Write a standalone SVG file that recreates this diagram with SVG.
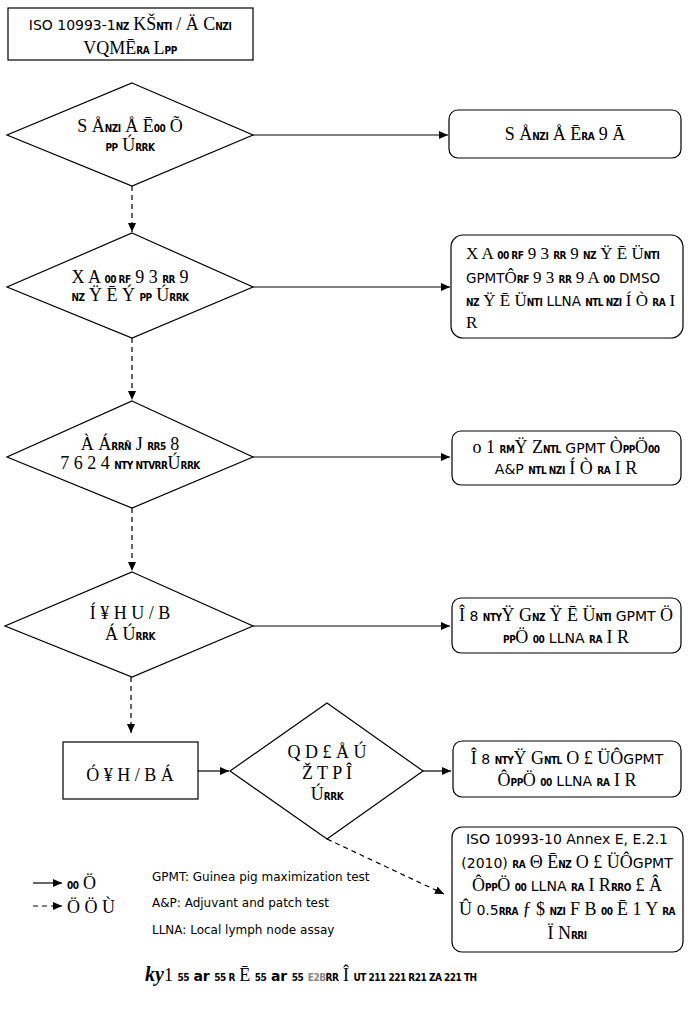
<svg xmlns="http://www.w3.org/2000/svg" width="693" height="1032" viewBox="0 0 693 1032">
<style>
.bg{fill:#fff}
.n{fill:#fff;stroke:#000;stroke-width:1.2}
.c{fill:none;stroke:#000;stroke-width:1.2}
.d{fill:none;stroke:#000;stroke-width:1.2;stroke-dasharray:5 4}
text{fill:#000;font-family:"Liberation Serif",serif;font-size:18px}
.m{text-anchor:middle}
.l{font-family:"DejaVu Sans",sans-serif;font-size:14px}
.s{font-family:"DejaVu Sans Condensed","DejaVu Sans",sans-serif;font-size:10px;font-weight:bold;letter-spacing:-0.5px}
.lg{font-family:"DejaVu Sans",sans-serif;font-size:12px}
#r2 text{font-size:17px}
#r2 .l{font-size:13.5px}
</style>
<defs>
<marker id="a" markerWidth="10" markerHeight="10" refX="9" refY="5" orient="auto" markerUnits="userSpaceOnUse">
<path d="M0,1 L9,5 L0,9 Z" fill="#000"/>
</marker>
</defs>
<rect class="bg" width="693" height="1032"/>

<g id="connectors">
<line class="c" x1="253" y1="135" x2="448" y2="135" marker-end="url(#a)"/>
<line class="d" x1="132" y1="186" x2="132" y2="232" marker-end="url(#a)"/>
<line class="c" x1="253" y1="287" x2="450" y2="287" marker-end="url(#a)"/>
<line class="d" x1="132" y1="338" x2="132" y2="400" marker-end="url(#a)"/>
<line class="c" x1="253" y1="457" x2="450" y2="457" marker-end="url(#a)"/>
<line class="d" x1="132" y1="508" x2="132" y2="571" marker-end="url(#a)"/>
<line class="c" x1="253" y1="626" x2="450" y2="626" marker-end="url(#a)"/>
<line class="d" x1="131" y1="677" x2="131" y2="733" marker-end="url(#a)"/>
<line class="c" x1="198" y1="771" x2="229" y2="771" marker-end="url(#a)"/>
<line class="c" x1="423" y1="771" x2="451" y2="771" marker-end="url(#a)"/>
<line class="d" x1="327" y1="839" x2="444" y2="894" marker-end="url(#a)"/>
</g>

<g id="n-top">
<rect class="n" x="8" y="8" width="245" height="52"/>
<text class="m" x="130" y="30"><tspan class="l">ISO 10993-1</tspan><tspan class="s">NZ</tspan> KŠ<tspan class="s">NTI</tspan> / Ä  C<tspan class="s">NZI</tspan></text>
<text class="m" x="130" y="54">VQMĒ<tspan class="s">RA</tspan> L<tspan class="s">PP</tspan></text>
</g>

<g id="q1">
<polygon class="n" points="132,83 253,135 132,186 7,135"/>
<text class="m" x="130" y="132">S Å<tspan class="s">NZI</tspan> Å Ē<tspan class="s">00</tspan> Õ</text>
<text class="m" x="130" y="151"><tspan class="s">PP</tspan> Ú<tspan class="s">RRK</tspan></text>
</g>

<g id="r1">
<rect class="n" x="449" y="110" width="232" height="48" rx="9"/>
<text class="m" x="565" y="140">S Å<tspan class="s">NZI</tspan> Å Ē<tspan class="s">RA</tspan> 9 Ā</text>
</g>

<g id="q2">
<polygon class="n" points="132,233 253,287 132,338 7,287"/>
<text class="m" x="130" y="283">X A <tspan class="s">00 RF</tspan> 9 3 <tspan class="s">RR</tspan> 9</text>
<text class="m" x="130" y="301"><tspan class="s">NZ</tspan> Ÿ Ē Ý <tspan class="s">PP</tspan> Ú<tspan class="s">RRK</tspan></text>
</g>

<g id="r2">
<rect class="n" x="451" y="235" width="232" height="103" rx="12"/>
<text x="466" y="259">X A <tspan class="s">00 RF</tspan> 9 3 <tspan class="s">RR</tspan> 9 <tspan class="s">NZ</tspan> Ÿ Ē Ü<tspan class="s">NTI</tspan></text>
<text x="466" y="283"><tspan class="l">GPMT</tspan>Ô<tspan class="s">RF</tspan> 9 3 <tspan class="s">RR</tspan> 9 A <tspan class="s">00</tspan> <tspan class="l">DMSO</tspan></text>
<text x="466" y="306"><tspan class="s">NZ</tspan> Ÿ Ē Ü<tspan class="s">NTI</tspan> <tspan class="l">LLNA</tspan> <tspan class="s">NTL NZI</tspan> Í Ò <tspan class="s">RA</tspan> I</text>
<text x="466" y="328">R</text>
</g>

<g id="q3">
<polygon class="n" points="132,401 253,457 132,508 7,457"/>
<text class="m" x="130" y="450">À Á<tspan class="s">RRÑ</tspan> J <tspan class="s">RR5</tspan> 8</text>
<text class="m" x="130" y="469">7 6 2 4 <tspan class="s">NTY NTVRR</tspan>Ú<tspan class="s">RRK</tspan></text>
</g>

<g id="r3">
<rect class="n" x="452" y="431" width="229" height="54" rx="9"/>
<text class="m" x="566" y="453">o 1 <tspan class="s">RM</tspan>Ÿ Z<tspan class="s">NTL</tspan> <tspan class="l">GPMT</tspan> Ò<tspan class="s">PP</tspan>Ö<tspan class="s">00</tspan></text>
<text class="m" x="566" y="474"><tspan class="l">A&amp;P</tspan> <tspan class="s">NTL NZI</tspan> Í Ò <tspan class="s">RA</tspan> I R</text>
</g>

<g id="q4">
<polygon class="n" points="132,572 253,626 132,677 5,626"/>
<text class="m" x="130" y="619">Í ¥ H U / B</text>
<text class="m" x="130" y="640">Á Ú<tspan class="s">RRK</tspan></text>
</g>

<g id="r4">
<rect class="n" x="452" y="598" width="229" height="55" rx="9"/>
<text class="m" x="566" y="621">Î <tspan class="l">8</tspan> <tspan class="s">NTY</tspan>Ÿ G<tspan class="s">NZ</tspan> Ÿ Ē Ü<tspan class="s">NTI</tspan> <tspan class="l">GPMT</tspan> Ö</text>
<text class="m" x="566" y="643"><tspan class="s">PP</tspan>Ö <tspan class="s">00</tspan> <tspan class="l">LLNA</tspan> <tspan class="s">RA</tspan> I R</text>
</g>

<g id="r-mid">
<rect class="n" x="63" y="742" width="135" height="57"/>
<text class="m" x="130" y="781">Ó ¥ H / B Á</text>
</g>

<g id="q5">
<polygon class="n" points="327,703 423,771 327,839 230,771"/>
<text class="m" x="327" y="758">Q D £ Å Ú</text>
<text class="m" x="327" y="779">Ž T P Î</text>
<text class="m" x="327" y="800">Ú<tspan class="s">RRK</tspan></text>
</g>

<g id="r5">
<rect class="n" x="453" y="741" width="228" height="56" rx="9"/>
<text class="m" x="567" y="764">Î <tspan class="l">8</tspan> <tspan class="s">NTY</tspan>Ÿ G<tspan class="s">NTL</tspan> O £ ÜÔ<tspan class="l">GPMT</tspan></text>
<text class="m" x="567" y="786">Ô<tspan class="s">PP</tspan>Ö <tspan class="s">00</tspan> <tspan class="l">LLNA</tspan> <tspan class="s">RA</tspan> I R</text>
</g>

<g id="r6">
<rect class="n" x="452" y="827" width="231" height="125" rx="10"/>
<text class="m l" x="567" y="844">ISO 10993-10 Annex E, E.2.1</text>
<text class="m" x="567" y="868"><tspan class="l">(2010)</tspan> <tspan class="s">RA</tspan> Θ Ē<tspan class="s">NZ</tspan> O £ ÜÔ<tspan class="l">GPMT</tspan></text>
<text class="m" x="567" y="891">Ô<tspan class="s">PP</tspan>Ö <tspan class="s">00</tspan> <tspan class="l">LLNA</tspan> <tspan class="s">RA</tspan> I R<tspan class="s">RRO</tspan> £ Â</text>
<text class="m" x="567" y="915">Û <tspan class="l">0.5</tspan><tspan class="s">RRA</tspan> ƒ $ <tspan class="s">NZI</tspan> F B <tspan class="s">00</tspan> Ē 1 Y <tspan class="s">RA</tspan></text>
<text class="m" x="567" y="939">Ï N<tspan class="s">RRI</tspan></text>
</g>

<g id="legend">
<line class="c" x1="33" y1="883" x2="62" y2="883" marker-end="url(#a)"/>
<line class="d" x1="33" y1="906" x2="62" y2="906" marker-end="url(#a)"/>
<text x="67" y="889"><tspan class="s">00</tspan> Ö</text>
<text x="67" y="913">Ö Ö Ù</text>
<text class="lg" x="152" y="881">GPMT: Guinea pig maximization test</text>
<text class="lg" x="152" y="907">A&amp;P: Adjuvant and patch test</text>
<text class="lg" x="152" y="934">LLNA: Local lymph node assay</text>
</g>

<g id="caption">
<text x="145" y="981"><tspan font-weight="bold" font-style="italic" font-size="20">ky</tspan>1 <tspan class="s" font-size="12">55</tspan> <tspan class="l" font-weight="bold">ar</tspan> <tspan class="s" font-size="12">55 R</tspan> Ē <tspan class="s" font-size="12">55</tspan> <tspan class="l" font-weight="bold">ar</tspan> <tspan class="s" font-size="12">55</tspan> <tspan class="s" font-size="8" fill="#888">E2B</tspan><tspan class="s" font-size="12">RR</tspan> Î <tspan class="s" font-size="12">UT 211 221 R21 ZA 221 TH</tspan></text>
</g>
</svg>
